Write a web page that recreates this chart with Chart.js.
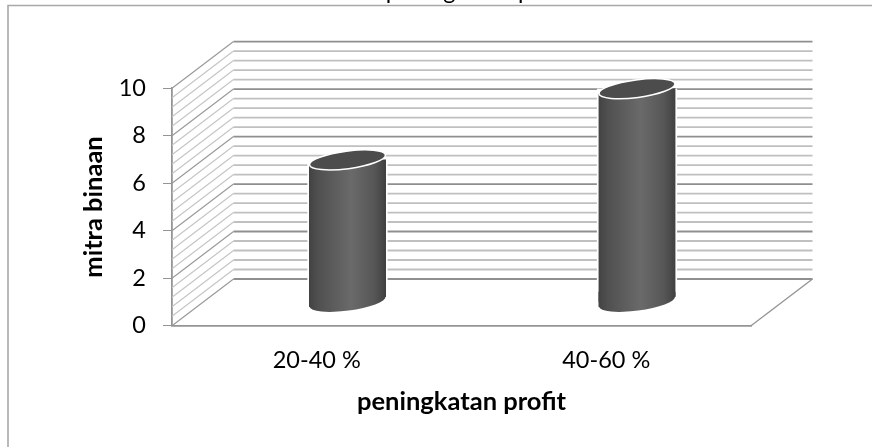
<!DOCTYPE html>
<html>
<head>
<meta charset="utf-8">
<style>html,body{margin:0;padding:0;background:#fff}canvas{display:block}</style>
<script src="https://cdn.jsdelivr.net/npm/chart.js@4"></script>
</head>
<body>
<canvas id="c" width="872" height="447"></canvas>
<script>
const categories = ['20-40 %', '40-60 %'];
const seriesValues = [6, 9];
const yTicks = [0, 2, 4, 6, 8, 10];
const wallLines = [0, 0.4, 0.8, 1.2, 1.6, 2, 2.4, 2.8, 3.2, 3.6, 4, 4.4, 4.8, 5.2, 5.6, 6, 6.4, 6.8, 7.2, 7.6, 8, 8.4, 8.8, 9.2, 9.6, 10];
const chartTitle = 'peningkatan profit';
const xTitle = 'peningkatan profit';
const yTitle = 'mitra binaan';

const DEPTH_X = 61.5, DEPTH_Y = 46.7, TILT = 7.5 * Math.PI / 180, MINOR_B = 8.8;
const FONT = 'Lato, "Open Sans", sans-serif';

function barGradient(chart, i) {
  const x = chart.scales.x ? chart.scales.x.getPixelForValue(i) : NaN, w = 77;
  if (!Number.isFinite(x)) return '#555';
  const g = chart.ctx.createLinearGradient(x - w / 2, 0, x + w / 2, 0);
  g.addColorStop(0, '#424242');
  g.addColorStop(0.12, '#505050');
  g.addColorStop(0.55, '#6a6a6a');
  g.addColorStop(0.85, '#565656');
  g.addColorStop(1, '#404040');
  return g;
}

const scene = {
  id: 'scene',
  beforeDatasetsDraw(chart) {
    const { ctx, scales: { x, y } } = chart;
    ctx.save();
    // outer frame (open at right and bottom in the source)
    ctx.strokeStyle = '#a8a8a8'; ctx.lineWidth = 1.6;
    ctx.beginPath(); ctx.moveTo(872, 5.5); ctx.lineTo(8, 5.5); ctx.lineTo(8, 447); ctx.stroke();
    // clipped title
    ctx.save();
    ctx.beginPath(); ctx.rect(0, 0, 872, 4.6); ctx.clip();
    ctx.fillStyle = '#000'; ctx.font = '23.5px ' + FONT; ctx.textAlign = 'center'; ctx.textBaseline = 'alphabetic';
    ctx.fillText(chartTitle, 480, -1);
    ctx.restore();
    // walls
    const L = x.left, R = x.right;
    const isMajor = v => Math.abs(v % 2) < 1e-6 || Math.abs(v % 2 - 2) < 1e-6;
    const draw = (major) => {
      // receding side-wall strokes
      ctx.strokeStyle = major ? '#9a9a9a' : '#c6c6c6';
      ctx.lineWidth = 1.2;
      ctx.beginPath();
      wallLines.forEach(v => {
        if (isMajor(v) !== major) return;
        const p = y.getPixelForValue(v);
        ctx.moveTo(L, p); ctx.lineTo(L + DEPTH_X, p - DEPTH_Y);
      });
      ctx.stroke();
      // back-wall strokes
      ctx.strokeStyle = major ? '#8f8f8f' : '#c0c0c0';
      ctx.lineWidth = 1.8;
      ctx.beginPath();
      wallLines.forEach(v => {
        if (isMajor(v) !== major) return;
        const p = y.getPixelForValue(v);
        ctx.moveTo(L + DEPTH_X, p - DEPTH_Y); ctx.lineTo(R + DEPTH_X, p - DEPTH_Y);
      });
      ctx.stroke();
    };
    draw(false); draw(true);
    // floor right edge
    const y0 = y.getPixelForValue(0);
    ctx.strokeStyle = '#959595'; ctx.lineWidth = 1.4;
    ctx.beginPath(); ctx.moveTo(R, y0); ctx.lineTo(R + DEPTH_X, y0 - DEPTH_Y); ctx.stroke();
    ctx.restore();
  },
  beforeDatasetDraw(chart, args) {
    const { ctx } = chart;
    const els = chart.getDatasetMeta(args.index).data;
    ctx.save();
    ctx.translate(DEPTH_X / 2, -DEPTH_Y / 2);
    els.forEach((el) => {
      const w = el.width, a = w / 2 - 0.2, d = w / 2 * Math.tan(TILT);
      // white halo beside the cylinder
      ctx.fillStyle = '#fff';
      ctx.fillRect(el.x - w / 2 - 1.6, el.y, w + 3.2, el.base - el.y - 6);
      // rounded foot
      ctx.fillStyle = el.options.backgroundColor;
      ctx.beginPath();
      ctx.ellipse(el.x, el.base, a, MINOR_B, -TILT, 0, Math.PI * 2);
      ctx.fill();
      ctx.beginPath();
      ctx.moveTo(el.x - w / 2, el.base - 10); ctx.lineTo(el.x + w / 2, el.base - 10);
      ctx.lineTo(el.x + w / 2, el.base - d); ctx.lineTo(el.x - w / 2, el.base + d);
      ctx.closePath(); ctx.fill();
    });
    ctx.beginPath();
    els.forEach((el) => {
      const w = el.width, d = w / 2 * Math.tan(TILT);
      ctx.moveTo(el.x - w / 2, el.y + d); ctx.lineTo(el.x + w / 2, el.y - d);
      ctx.lineTo(el.x + w / 2, el.base - d); ctx.lineTo(el.x - w / 2, el.base + d);
      ctx.closePath();
    });
    ctx.clip();
  },
  afterDatasetDraw(chart, args) {
    const { ctx } = chart;
    ctx.restore();
    ctx.save();
    ctx.translate(DEPTH_X / 2, -DEPTH_Y / 2);
    chart.getDatasetMeta(args.index).data.forEach((el) => {
      const a = el.width / 2 - 0.2;
      ctx.beginPath();
      ctx.ellipse(el.x, el.y, a, MINOR_B, -TILT, 0, Math.PI * 2);
      ctx.fillStyle = '#4c4c4c'; ctx.fill();
      ctx.strokeStyle = '#fff'; ctx.lineWidth = 1.5; ctx.stroke();
    });
    ctx.restore();
  }
};

new Chart(document.getElementById('c'), {
  type: 'bar',
  data: {
    labels: categories,
    datasets: [{
      data: seriesValues,
      barThickness: 77,
      borderWidth: 0,
      backgroundColor: (c) => barGradient(c.chart, c.dataIndex)
    }]
  },
  plugins: [scene],
  options: {
    responsive: false,
    animation: false,
    layout: { padding: { top: 88.3, right: 121, left: 0, bottom: 0 } },
    plugins: { legend: { display: false }, title: { display: false }, tooltip: { enabled: false } },
    scales: {
      x: {
        offset: true,
        afterFit(s) { s.height = 121.3; },
        grid: { display: true, drawOnChartArea: false, drawTicks: false, color: '#959595' },
        border: { display: true, color: '#959595', width: 1.8 },
        ticks: { color: '#000', font: { family: FONT, size: 23.5 }, padding: 20.7, maxRotation: 0 },
        title: { display: true, text: xTitle, color: '#000', font: { family: FONT, size: 25.5, weight: 'bold' }, padding: { top: 0, bottom: 29.5 } }
      },
      y: {
        min: 0, max: 10,
        afterFit(s) { s.width = 172; },
        afterBuildTicks(s) { s.ticks = yTicks.map(v => ({ value: v })); },
        grid: { display: true, drawOnChartArea: false, drawTicks: true, tickLength: 9, color: '#959595' },
        border: { display: true, color: '#959595', width: 1.8 },
        ticks: { color: '#000', font: { family: FONT, size: 23.5 }, padding: 17 },
        title: { display: true, text: yTitle, color: '#000', font: { family: FONT, size: 25.5, weight: 'bold' }, padding: { top: 78, bottom: 0 } }
      }
    }
  }
});
</script>
</body>
</html>
